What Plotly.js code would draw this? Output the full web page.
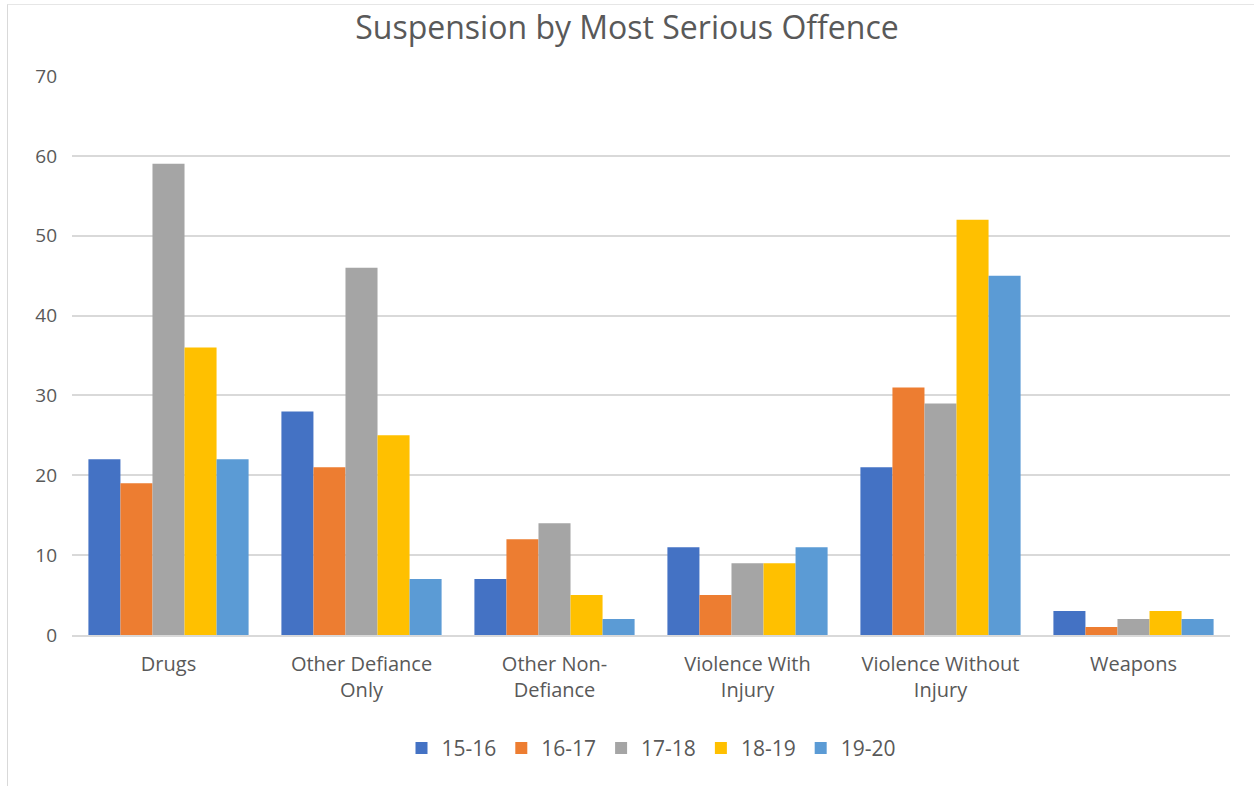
<!DOCTYPE html>
<html>
<head>
<meta charset="utf-8">
<script src="https://cdn.plot.ly/plotly-3.0.1.min.js"></script>
<style>
  html, body { margin: 0; padding: 0; background: #ffffff; }
  #frame { position: absolute; left: 7px; top: 4px; width: 1260px; height: 800px;
           border-left: 1px solid #d9d9d9; border-top: 1px solid #e6e6e6; }
  #chart { position: absolute; left: 0; top: 0; width: 1254px; height: 786px; }
</style>
</head>
<body>
<div id="frame"></div>
<div id="chart"></div>
<script>
// Suspension counts by most serious offence, per school year
const categories = [
  "Drugs",
  "Other Defiance<br>Only",
  "Other Non-<br>Defiance",
  "Violence With<br>Injury",
  "Violence Without<br>Injury",
  "Weapons"
];
const years = ["15-16", "16-17", "17-18", "18-19", "19-20"];
const y1516 = [22, 28, 7, 11, 21, 3];
const y1617 = [19, 21, 12, 5, 31, 1];
const y1718 = [59, 46, 14, 9, 29, 2];
const y1819 = [36, 25, 5, 9, 52, 3];
const y1920 = [22, 7, 2, 11, 45, 2];
const seriesValues = [y1516, y1617, y1718, y1819, y1920];
const colors = ["#4472C4", "#ED7D31", "#A5A5A5", "#FFC000", "#5B9BD5"];

const traces = years.map((name, i) => ({
  type: "bar",
  name: name,
  x: categories,
  y: seriesValues[i],
  marker: { color: colors[i] },
  hoverinfo: "x+y+name"
}));

const font = "'Open Sans', 'Noto Sans', sans-serif";

const layout = {
  width: 1254,
  height: 786,
  paper_bgcolor: "rgba(0,0,0,0)",
  plot_bgcolor: "rgba(0,0,0,0)",
  margin: { l: 72, r: 24, t: 76, b: 151 },
  barmode: "group",
  bargap: 0.17,
  bargroupgap: 0,
  title: {
    text: "Suspension by Most Serious Offence",
    font: { family: font, size: 32, color: "#595959" },
    x: 0.5,
    xanchor: "center",
    y: 0.964,
    yanchor: "middle"
  },
  xaxis: {
    type: "category",
    tickfont: { family: font, size: 20, color: "#595959" },
    showgrid: false,
    showline: true,
    linecolor: "#d9d9d9",
    linewidth: 2,
    ticks: "",
    ticklabelstandoff: 10
  },
  yaxis: {
    range: [0, 70],
    dtick: 10,
    tickfont: { family: font, size: 19, color: "#595959" },
    showgrid: true,
    gridcolor: "#d9d9d9",
    gridwidth: 1.5,
    zeroline: false,
    showline: false,
    ticks: "",
    ticklabelstandoff: 14
  },
  legend: {
    orientation: "h",
    x: 0.5,
    xanchor: "center",
    y: -0.166,
    yanchor: "top",
    font: { family: font, size: 21, color: "#595959" },
    itemwidth: 30,
    traceorder: "normal"
  },
  showlegend: true
};

Plotly.newPlot("chart", traces, layout, { displayModeBar: false });
</script>
</body>
</html>
